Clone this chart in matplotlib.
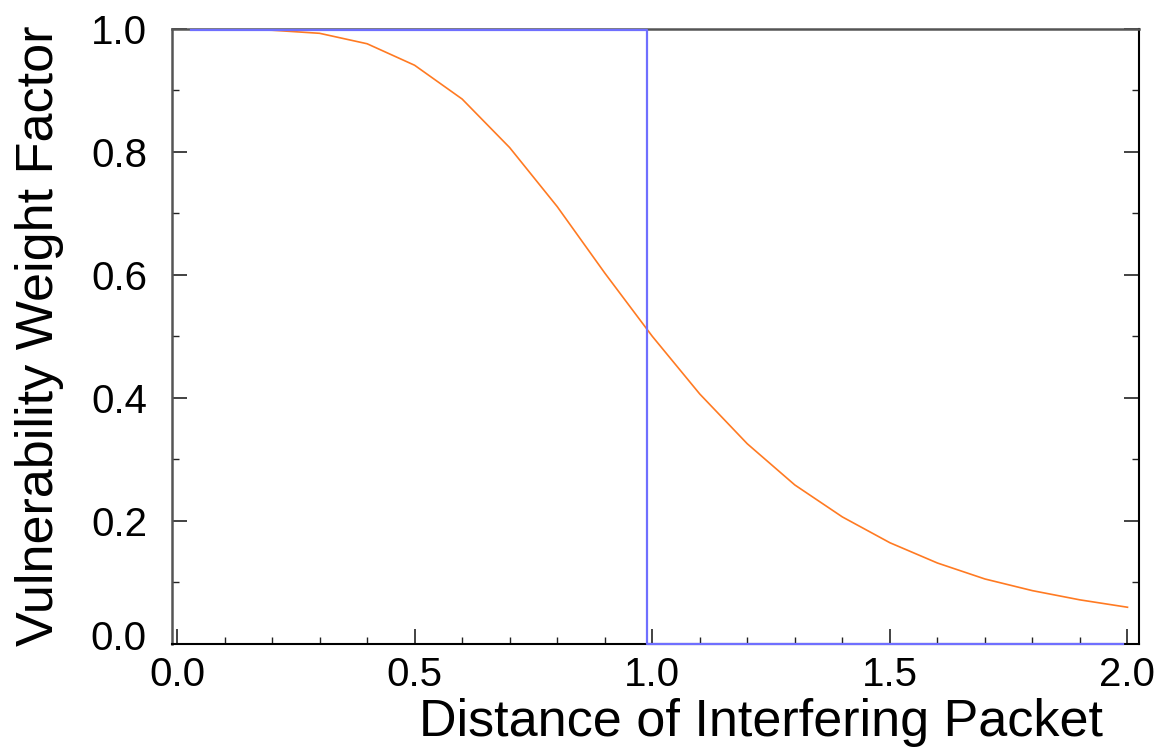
import matplotlib
matplotlib.use("Agg")
import matplotlib.pyplot as plt
from matplotlib.ticker import MultipleLocator, FormatStrFormatter
from matplotlib.transforms import ScaledTranslation

# Data
orange_x = [0.1, 0.2, 0.3, 0.4, 0.5, 0.6, 0.7, 0.8, 0.9, 1.0,
            1.1, 1.2, 1.3, 1.4, 1.5, 1.6, 1.7, 1.8, 1.9, 2.0]
orange_y = [1.0, 0.998, 0.993, 0.976, 0.941, 0.886, 0.807, 0.711, 0.603, 0.500,
            0.406, 0.325, 0.258, 0.206, 0.164, 0.131, 0.105, 0.086, 0.071, 0.059]

blue_x = [0.03, 0.99, 0.99, 1.99]
blue_y = [0.998, 0.998, 0.0, 0.0]

xlabel_text = "Distance of Interfering Packet"
ylabel_text = "Vulnerability Weight Factor"

plt.rcParams['font.family'] = ['Liberation Sans', 'DejaVu Sans']

fig = plt.figure(figsize=(11.69, 7.49), dpi=100)
ax = fig.add_axes([172/1169, 1 - 643.5/749, (1139-172)/1169, (643.5-29)/749])

ax.plot(orange_x, orange_y, color='#ff7a22', lw=1.2, zorder=3)
ax.plot(blue_x, blue_y, color='#6f6fff', lw=1.6, zorder=4, clip_on=False)

ax.set_xlim(-0.0105, 2.0242)
ax.set_ylim(0, 1.0)

ax.xaxis.set_major_locator(MultipleLocator(0.5))
ax.xaxis.set_minor_locator(MultipleLocator(0.1))
ax.yaxis.set_major_locator(MultipleLocator(0.2))
ax.yaxis.set_minor_locator(MultipleLocator(0.1))
ax.xaxis.set_major_formatter(FormatStrFormatter('%.1f'))
ax.yaxis.set_major_formatter(FormatStrFormatter('%.1f'))

ax.tick_params(axis='both', which='both', direction='in', top=False,
               right=True, left=True, bottom=True, color='#222222',
               labelcolor='black')
ax.tick_params(axis='both', which='major', length=11, width=1.2, labelsize=29)
ax.tick_params(axis='both', which='minor', length=5, width=1.0)
ax.tick_params(axis='x', which='major', pad=9)
ax.tick_params(axis='y', which='major', pad=18)

for side in ['bottom', 'right']:
    ax.spines[side].set_color('black')
    ax.spines[side].set_linewidth(1.5)
for side in ['top', 'left']:
    ax.spines[side].set_color('#555555')
    ax.spines[side].set_linewidth(1.8)

ax.set_xlabel(xlabel_text, fontsize=37.5, color='black')
ax.set_ylabel(ylabel_text, fontsize=37.5, color='black')
ax.xaxis.set_label_coords(0.609, -0.089)
ax.yaxis.set_label_coords(-0.112, 0.5)

fig.canvas.draw()
# shift the 0.0 y tick label up slightly as in the reference
for lab in ax.get_yticklabels():
    if lab.get_text() == '0.0':
        lab.set_transform(lab.get_transform() + ScaledTranslation(0, 8/100, fig.dpi_scale_trans))

fig.savefig('out.png', dpi=100)
